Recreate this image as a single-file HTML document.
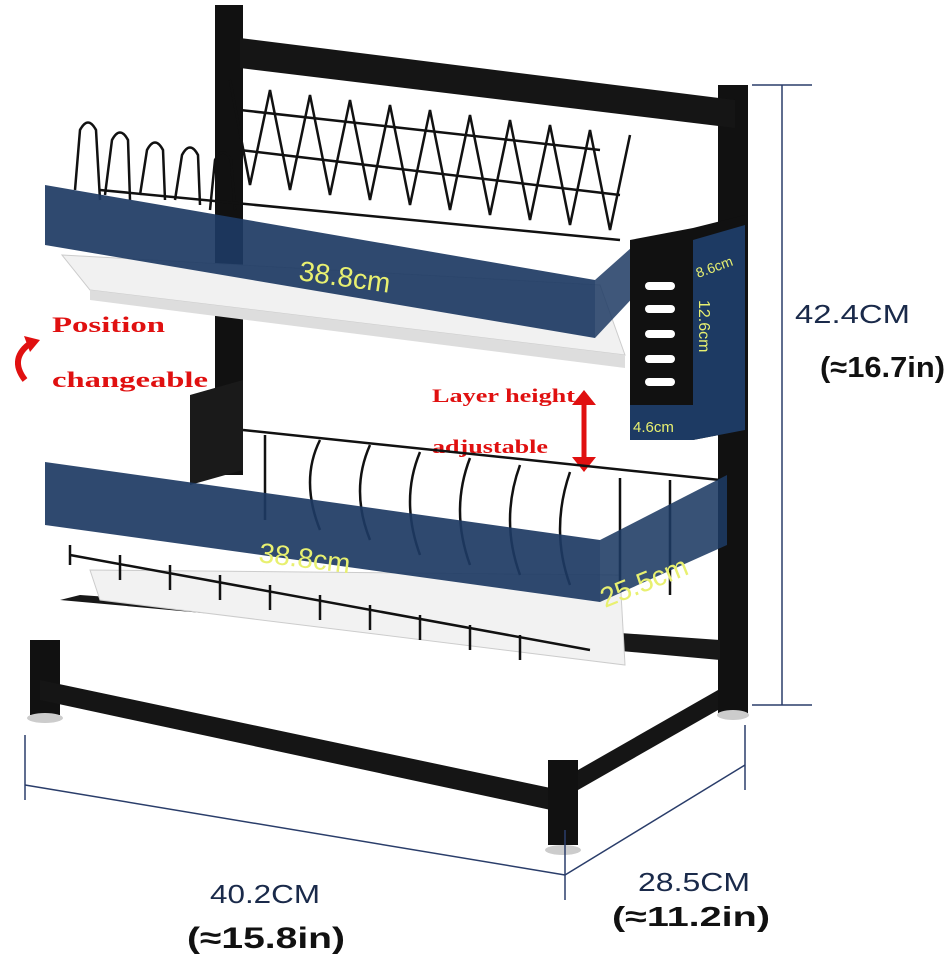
<!DOCTYPE html>
<html><head><style>
html,body{margin:0;padding:0;background:#fff}
svg{display:block}
.ser{font-family:"Liberation Serif",serif;font-weight:bold;fill:#e01010}
.dim{font-family:"Liberation Sans",sans-serif;fill:#1a2a4a}
.yl{font-family:"Liberation Sans",sans-serif;fill:#e8f070}
.bd{font-family:"Liberation Sans",sans-serif;font-weight:bold;fill:#111}
</style></head><body>
<svg width="949" height="959" viewBox="0 0 949 959" xmlns="http://www.w3.org/2000/svg">
<!-- posts -->
<rect x="215" y="5" width="28" height="470" fill="#111"/>
<rect x="718" y="85" width="30" height="630" fill="#111"/>
<polygon points="240,38 735,100 735,128 240,68" fill="#151515"/>
<!-- upper tray -->
<polygon points="62,255 600,285 625,355 90,290" fill="#f1f1f1" stroke="#ccc"/>
<polygon points="90,290 625,355 625,368 90,300" fill="#ddd"/>
<!-- upper wires -->
<g stroke="#111" stroke-width="2.5" fill="none">
<path d="M75,190 L80,130 Q88,115 96,130 L100,200 M105,195 L112,140 Q120,125 128,140 L130,200 M140,195 L147,150 Q155,135 163,150 L165,200 M175,200 L182,155 Q190,140 198,155 L200,205 M210,210 L215,160 Q223,145 231,160 L235,210"/>
<path d="M230,80 L250,185 L270,90 L290,190 L310,95 L330,195 L350,100 L370,200 L390,105 L410,205 L430,110 L450,210 L470,115 L490,215 L510,120 L530,220 L550,125 L570,225 L590,130 L610,230 L630,135"/>
<path d="M240,110 L600,150 M240,150 L620,195 M100,190 L620,240"/>
</g>
<!-- upper blue -->
<polygon points="45,185 595,280 595,338 45,245" fill="#1d3a63" opacity="0.92"/>
<polygon points="595,280 640,240 640,290 595,338" fill="#1d3a63" opacity="0.85"/>
<text class="yl" font-size="28" transform="translate(298,280) rotate(8)">38.8cm</text>
<!-- utensil holder -->
<polygon points="630,240 693,228 745,215 745,430 693,440 630,440" fill="#111"/>
<polygon points="693,240 745,225 745,430 693,440" fill="#1d3a63"/>
<rect x="630" y="405" width="63" height="35" fill="#1d3a63"/>
<g fill="#fff"><rect x="645" y="282" width="30" height="8" rx="4"/><rect x="645" y="305" width="30" height="8" rx="4"/><rect x="645" y="330" width="30" height="8" rx="4"/><rect x="645" y="355" width="30" height="8" rx="4"/><rect x="645" y="378" width="30" height="8" rx="4"/></g>
<text class="yl" font-size="14" transform="translate(698,278) rotate(-20)">8.6cm</text>
<text class="yl" font-size="16" transform="translate(699,300) rotate(90)">12.6cm</text>
<text class="yl" font-size="15" x="633" y="432">4.6cm</text>
<!-- red labels -->
<text class="ser" font-size="22" x="52" y="332" textLength="113" lengthAdjust="spacingAndGlyphs">Position</text>
<text class="ser" font-size="22" x="52" y="387" textLength="156" lengthAdjust="spacingAndGlyphs">changeable</text>
<path d="M32,342 Q8,358 25,380" stroke="#e01010" stroke-width="6" fill="none"/>
<polygon points="24,336 40,340 30,352" fill="#e01010"/>
<text class="ser" font-size="19" x="432" y="402" textLength="143" lengthAdjust="spacingAndGlyphs">Layer height</text>
<text class="ser" font-size="19" x="432" y="453" textLength="116" lengthAdjust="spacingAndGlyphs">adjustable</text>
<path d="M584,400 L584,462" stroke="#e01010" stroke-width="5"/>
<polygon points="572,405 584,390 596,405" fill="#e01010"/><polygon points="572,457 584,472 596,457" fill="#e01010"/>
<!-- lower rack left panel -->
<polygon points="190,395 243,380 243,470 190,485" fill="#1a1a1a"/>
<!-- base -->
<polygon points="30,640 60,640 60,715 30,715" fill="#111"/>
<polygon points="40,680 560,790 560,812 40,700" fill="#151515"/>
<polygon points="60,600 80,595 720,640 720,660" fill="#181818"/>
<rect x="548" y="760" width="30" height="85" fill="#111"/>
<polygon points="578,770 718,690 718,710 578,790" fill="#151515"/>
<ellipse cx="45" cy="718" rx="18" ry="5" fill="#ccc"/><ellipse cx="563" cy="850" rx="18" ry="5" fill="#ccc"/><ellipse cx="733" cy="715" rx="16" ry="5" fill="#ccc"/>
<!-- lower tray -->
<polygon points="90,570 620,575 625,665 100,600" fill="#f2f2f2" stroke="#ccc"/>
<!-- lower wires -->
<g stroke="#111" stroke-width="2.5" fill="none">
<path d="M243,430 L720,480 M70,555 L590,650"/>
<path d="M265,435 L265,520 M320,440 Q300,480 320,530 M370,445 Q350,490 370,540 M420,452 Q400,500 420,555 M470,458 Q450,510 470,565 M520,465 Q500,520 520,575 M570,472 Q550,530 570,585 M620,478 L620,590 M670,480 L670,595"/>
<path d="M70,545 L70,565 M120,555 L120,580 M170,565 L170,590 M220,575 L220,600 M270,585 L270,610 M320,595 L320,620 M370,605 L370,630 M420,615 L420,640 M470,625 L470,650 M520,635 L520,660"/>
</g>
<!-- lower blue -->
<polygon points="45,462 600,540 600,602 45,525" fill="#1d3a63" opacity="0.92"/>
<polygon points="600,540 727,475 727,545 600,602" fill="#1d3a63" opacity="0.88"/>
<text class="yl" font-size="28" transform="translate(258,562) rotate(7)">38.8cm</text>
<text class="yl" font-size="28" transform="translate(605,608) rotate(-22)">25.5cm</text>
<!-- dimension lines -->
<g stroke="#2a3d6a" stroke-width="1.5">
<line x1="782" y1="85" x2="782" y2="705"/><line x1="752" y1="85" x2="812" y2="85"/><line x1="752" y1="705" x2="812" y2="705"/>
<line x1="25" y1="785" x2="565" y2="875"/><line x1="25" y1="735" x2="25" y2="800"/><line x1="565" y1="830" x2="565" y2="900"/>
<line x1="565" y1="875" x2="745" y2="765"/><line x1="745" y1="725" x2="745" y2="790"/>
</g>
<text class="dim" font-size="26" x="795" y="323" textLength="115" lengthAdjust="spacingAndGlyphs">42.4CM</text>
<text class="bd" font-size="29" x="820" y="377" textLength="125" lengthAdjust="spacingAndGlyphs">(≈16.7in)</text>
<text class="dim" font-size="26" x="210" y="903" textLength="110" lengthAdjust="spacingAndGlyphs">40.2CM</text>
<text class="bd" font-size="30" x="187" y="948" textLength="158" lengthAdjust="spacingAndGlyphs">(≈15.8in)</text>
<text class="dim" font-size="26" x="638" y="891" textLength="112" lengthAdjust="spacingAndGlyphs">28.5CM</text>
<text class="bd" font-size="28" x="612" y="926" textLength="158" lengthAdjust="spacingAndGlyphs">(≈11.2in)</text>
</svg>
</body></html>
